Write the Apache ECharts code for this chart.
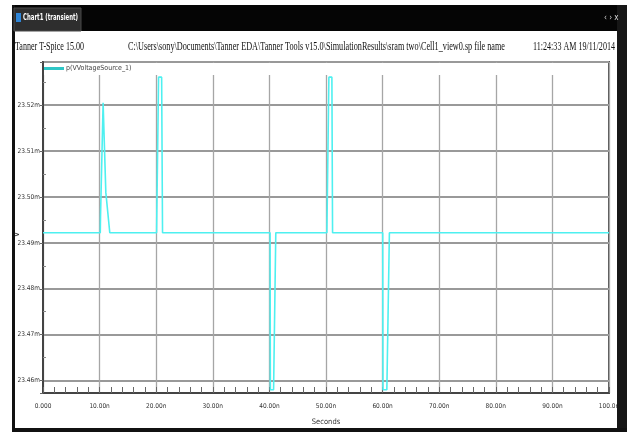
<!DOCTYPE html>
<html>
<head>
<meta charset="utf-8">
<script src="https://cdn.jsdelivr.net/npm/echarts@6/dist/echarts.min.js"></script>
<style>
html,body{margin:0;padding:0;background:#fff;}
#c{width:627px;height:432px;}
</style>
</head>
<body>
<div id="c"></div>
<script>
// ---- data ----
const seriesName = 'p(VVoltageSource_1)';
const timeNs = [0, 10.12, 10.16, 10.62, 10.92, 11.1, 11.8, 20.07, 20.1, 20.42, 20.96, 21.12, 40.12, 40.17, 40.74, 41.13, 50.16, 50.19, 50.51, 51.04, 51.16, 60.02, 60.07, 60.75, 61.2, 100];
const voltageMv = [23.4922, 23.4922, 23.4956, 23.5205, 23.5205, 23.5010, 23.4922, 23.4922, 23.4956, 23.5261, 23.5261, 23.4922, 23.4922, 23.4580, 23.4580, 23.4922, 23.4922, 23.4956, 23.5261, 23.5261, 23.4922, 23.4922, 23.4580, 23.4580, 23.4922, 23.4922];
const xTickLabels = ['0.000', '10.00n', '20.00n', '30.00n', '40.00n', '50.00n', '60.00n', '70.00n', '80.00n', '90.00n', '100.0n'];
const yRange = [23.4573, 23.5294];
const xRange = [0, 100];
const titleTab = 'Chart1 (transient)';
const headerLeft = 'Tanner T-Spice 15.00';
const headerPath = 'C:\\Users\\sony\\Documents\\Tanner EDA\\Tanner Tools v15.0\\SimulationResults\\sram two\\Cell1_view0.sp file name';
const headerTime = '11:24:33 AM 19/11/2014';

const points = timeNs.map((t, i) => [t, voltageMv[i]]);

const ctx = document.createElement('canvas').getContext('2d');
function fitScale(text, font, width) {
  ctx.font = font;
  const w = ctx.measureText(text).width;
  return w > 0 ? width / w : 1;
}
const serifFont = '12px "Liberation Serif", "Times New Roman", serif';
const narrow = '"Liberation Sans Narrow", "DejaVu Sans Condensed", "Arial Narrow", sans-serif';

function headerText(text, x, width) {
  const s = fitScale(text, serifFont, width);
  return {
    type: 'text', x: x, y: 47, scaleX: s, z: 5,
    style: { text: text, font: serifFont, fill: '#111', verticalAlign: 'middle', align: 'left' }
  };
}

const chart = echarts.init(document.getElementById('c'), null, { renderer: 'canvas' });
chart.setOption({
  animation: false,
  backgroundColor: '#fff',
  grid: {
    left: 43, right: 18, top: 62, bottom: 39,
    containLabel: false, outerBoundsMode: 'none',
    show: true, borderColor: '#555', borderWidth: 2, backgroundColor: 'transparent'
  },
  legend: {
    left: 44, top: 65, padding: 0,
    icon: 'rect', itemWidth: 20, itemHeight: 3, itemGap: 4,
    data: [{ name: seriesName, itemStyle: { color: '#2fc6c6' } }],
    textStyle: { fontFamily: narrow, fontSize: 7, color: '#444', padding: [0, 0, 0, -3] }
  },
  xAxis: {
    type: 'value', min: xRange[0], max: xRange[1], interval: 10,
    name: 'Seconds', nameLocation: 'middle', nameGap: 25, nameMoveOverlap: false,
    nameTextStyle: { fontFamily: narrow, fontSize: 7.5, color: '#333' },
    axisLine: { show: true, lineStyle: { color: '#444', width: 2 } },
    axisTick: { show: true, inside: true, length: 6, lineStyle: { color: '#666' } },
    minorTick: { show: true, splitNumber: 5, length: 6, lineStyle: { color: '#666' } },
    splitLine: { show: true, lineStyle: { color: '#a6a6a6', width: 1.3 } },
    axisLabel: {
      fontFamily: narrow, fontSize: 6.5, color: '#333', margin: 10,
      formatter: v => xTickLabels[Math.round(v / 10)] || ''
    }
  },
  yAxis: {
    type: 'value', min: yRange[0], max: yRange[1], splitNumber: 7,
    name: 'V', nameLocation: 'middle', nameRotate: 90, nameGap: 22, nameMoveOverlap: false,
    nameTextStyle: { fontFamily: narrow, fontSize: 9, color: '#333', padding: [0, 14, 0, 0] },
    axisLine: { show: true, lineStyle: { color: '#444', width: 2 } },
    axisTick: { show: true, inside: false, length: 3, lineStyle: { color: '#666' } },
    minorTick: { show: true, splitNumber: 2, length: -3, lineStyle: { color: '#888' } },
    splitLine: { show: true, lineStyle: { color: '#999', width: 2 } },
    axisLabel: {
      fontFamily: narrow, fontSize: 6.5, color: '#333', margin: 3,
      showMinLabel: false, showMaxLabel: false,
      formatter: v => {
        const s = v.toFixed(2);
        return Math.abs(v - parseFloat(s)) < 1e-7 ? s + 'm' : '';
      }
    }
  },
  series: [{
    name: seriesName, type: 'line', data: points,
    showSymbol: false, symbol: 'none', clip: true,
    lineStyle: { color: '#4ef0f0', width: 1.6 },
    itemStyle: { color: '#4ef0f0' }, z: 3
  }],
  graphic: [
    // window chrome
    { type: 'rect', shape: { x: 12, y: 5, width: 615, height: 26 }, style: { fill: '#050505' }, z: 5 },
    { type: 'rect', shape: { x: 12, y: 5, width: 3, height: 427 }, style: { fill: '#111' }, z: 5 },
    { type: 'rect', shape: { x: 617, y: 5, width: 10, height: 427 }, style: { fill: '#161616' }, z: 5 },
    { type: 'rect', shape: { x: 12, y: 428, width: 615, height: 4 }, style: { fill: '#111' }, z: 5 },
    { type: 'rect', shape: { x: 14, y: 8, width: 67, height: 23 }, style: { fill: '#2e2e2e', stroke: '#4a4a4a', lineWidth: 1 }, z: 6 },
    { type: 'rect', shape: { x: 16, y: 13, width: 5, height: 9 }, style: { fill: '#2f86d8' }, z: 7 },
    { type: 'text', x: 23, y: 18, z: 7, scaleX: fitScale(titleTab, 'bold 9px ' + narrow, 55),
      style: { text: titleTab, font: 'bold 9px ' + narrow, fill: '#fff', verticalAlign: 'middle' } },
    { type: 'text', x: 604, y: 18, z: 7,
      style: { text: '\u2039 \u203A x', font: '8px ' + narrow, fill: '#ddd', verticalAlign: 'middle' } },
    headerText(headerLeft, 15, 69),
    headerText(headerPath, 128, 377),
    headerText(headerTime, 533, 82),
    // band above the plotting grid that holds the legend
    { type: 'rect', shape: { x: 44, y: 63, width: 564, height: 12 }, style: { fill: '#fff' }, z: 1 }
  ]
});
</script>
</body>
</html>
